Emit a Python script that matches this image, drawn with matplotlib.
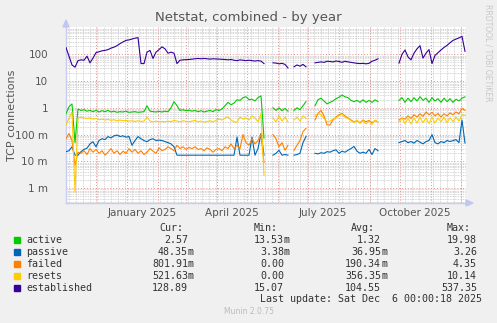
import numpy as np
import pandas as pd
import matplotlib
matplotlib.use("Agg")
import matplotlib.pyplot as plt
from matplotlib.patches import Rectangle, Polygon

N = np.nan

# munin netstat, one sample every 3 days from 2024-11-01, NaN = no data
start = pd.Timestamp("2024-11-01")
end = pd.Timestamp("2025-12-06")
t = pd.date_range(start, periods=134, freq="3D")

established = [
    180, 85, 40, 33, 58, 62, 60, 85, 48, 72,
    115, 125, 135, 140, 150, 170, 185, 210, 250, 290,
    330, 345, 370, 400, 420, 45, 45, 120, 140, 70,
    120, 150, 190, 160, 110, 120, 110, 45, 60, 62,
    63, 64, 66, 68, 70, 68, 70, 68, 66, 68,
    67, 66, 65, 64, 62, 64, 60, 58, 62, 60,
    58, 60, 58, 56, 58, 56, 45, N, N, 48,
    47, 44, 46, 42, 31, N, 34, 40, 36, 42,
    34, N, N, 48, 50, 52, 50, 55, 54, 52,
    56, 54, 50, 55, 52, 50, 48, 46, 45, 46,
    44, 46, 55, 60, 68, N, N, N, N, N,
    N, 47, 100, 145, 80, 62, 110, 160, 210, 72,
    110, 150, 45, 90, 115, 145, 180, 215, 270, 330,
    370, 410, 470, 128.89,
]
active = [
    0.6, 1.1, 1.4, 0.05, 0.9, 0.8, 0.85, 0.75, 0.8, 0.72,
    0.8, 0.7, 0.78, 0.72, 0.8, 0.7, 0.75, 0.68, 0.72, 0.7,
    0.75, 0.68, 0.7, 0.72, 0.68, 0.7, 0.72, 1.2, 0.75, 0.72,
    0.7, 0.74, 0.7, 0.75, 0.72, 1.0, 1.7, 1.2, 0.8, 0.85,
    0.78, 0.82, 0.75, 0.8, 0.72, 0.78, 0.7, 0.75, 0.8, 0.72,
    0.85, 0.8, 0.9, 1.2, 1.6, 1.3, 1.5, 2.0, 1.9, 2.4,
    2.6, 2.0, 2.1, 1.8, 2.4, 2.8, 0.074, N, N, 1.0,
    0.8, 1.0, 0.78, 0.95, 0.75, N, 0.8, 1.0, 0.85, 1.2,
    1.7, N, N, 1.2, 2.0, 2.3, 1.8, 1.4, 1.6, 1.8,
    2.2, 2.5, 3.0, 2.6, 2.4, 1.9, 1.7, 1.9, 1.6, 2.0,
    1.6, 1.9, 1.6, 2.0, 1.7, N, N, N, N, N,
    N, 1.9, 2.4, 1.6, 2.3, 1.7, 2.4, 1.8, 2.6, 1.9,
    2.3, 1.6, 2.4, 1.8, 2.2, 1.6, 2.3, 1.7, 2.2, 1.6,
    2.1, 1.8, 2.3, 2.57,
]
resets = [
    0.23, 0.4, 0.7, 0.0007, 0.42, 0.45, 0.42, 0.4, 0.42, 0.38,
    0.4, 0.36, 0.38, 0.35, 0.37, 0.34, 0.36, 0.33, 0.35, 0.33,
    0.34, 0.32, 0.33, 0.31, 0.33, 0.31, 0.32, 0.45, 0.32, 0.3,
    0.32, 0.3, 0.31, 0.3, 0.32, 0.3, 0.34, 0.32, 0.3, 0.33,
    0.31, 0.3, 0.32, 0.34, 0.3, 0.32, 0.29, 0.31, 0.33, 0.3,
    0.34, 0.38, 0.35, 0.42, 0.46, 0.35, 0.3, 0.29, 0.45, 0.38,
    0.42, 0.35, 0.5, 0.42, 0.3, 0.6, 0.003, N, N, 0.42,
    0.3, 0.5, 0.32, 0.45, 0.3, N, 0.35, 0.45, 0.32, 0.5,
    0.4, N, N, 0.5, 0.62, 0.55, 0.4, 0.3, 0.32, 0.38,
    0.42, 0.5, 0.58, 0.45, 0.4, 0.33, 0.28, 0.35, 0.26, 0.33,
    0.25, 0.32, 0.24, 0.35, 0.3, N, N, N, N, N,
    N, 0.3, 0.42, 0.26, 0.4, 0.25, 0.42, 0.27, 0.45, 0.28,
    0.42, 0.26, 0.45, 0.27, 0.42, 0.3, 0.45, 0.28, 0.43, 0.3,
    0.45, 0.32, 0.55, 0.52,
]
failed = [
    0.07, 0.11, 0.06, 0.007, 0.022, 0.02, 0.025, 0.018, 0.03, 0.022,
    0.028, 0.02, 0.025, 0.017, 0.022, 0.03, 0.02, 0.025, 0.018, 0.024,
    0.02, 0.03, 0.022, 0.028, 0.02, 0.025, 0.018, 0.022, 0.03, 0.024,
    0.02, 0.032, 0.025, 0.028, 0.035, 0.03, 0.025, 0.04, 0.03, 0.035,
    0.028, 0.033, 0.03, 0.035, 0.028, 0.03, 0.025, 0.032, 0.028, 0.022,
    0.028, 0.03, 0.025, 0.035, 0.03, 0.045, 0.03, 0.04, 0.03, 0.1,
    0.05, 0.04, 0.07, 0.045, 0.06, 0.1, 0.009, N, N, 0.1,
    0.07, 0.035, 0.05, 0.026, 0.04, N, 0.026, 0.04, 0.06, 0.13,
    0.17, N, N, 0.35, 0.62, 0.8, 0.5, 0.23, 0.23, 0.35,
    0.45, 0.55, 0.62, 0.5, 0.42, 0.35, 0.3, 0.33, 0.28, 0.35,
    0.3, 0.34, 0.28, 0.33, 0.3, N, N, N, N, N,
    N, 0.35, 0.42, 0.38, 0.5, 0.4, 0.55, 0.45, 0.6, 0.48,
    0.7, 0.55, 0.68, 0.5, 0.62, 0.45, 0.6, 0.5, 0.65, 0.55,
    0.7, 0.6, 0.95, 0.80191,
]
passive = [
    0.023, 0.025, 0.035, 0.017, 0.017, 0.023, 0.028, 0.031, 0.045, 0.054,
    0.035, 0.06, 0.07, 0.065, 0.084, 0.075, 0.09, 0.096, 0.085, 0.09,
    0.08, 0.085, 0.04, 0.06, 0.084, 0.07, 0.06, 0.054, 0.065, 0.07,
    0.06, 0.062, 0.06, 0.055, 0.05, 0.045, 0.035, 0.017, 0.017, 0.017,
    0.017, 0.017, 0.017, 0.017, 0.017, 0.017, 0.017, 0.017, 0.017, 0.017,
    0.017, 0.017, 0.017, 0.017, 0.017, 0.017, 0.017, 0.08, 0.017, 0.017,
    0.017, 0.017, 0.08, 0.017, 0.03, 0.11, 0.017, N, N, 0.017,
    0.02, 0.026, 0.017, 0.018, 0.017, N, 0.017, 0.018, 0.02, 0.05,
    0.085, N, N, 0.02, 0.019, 0.021, 0.02, 0.023, 0.022, 0.025,
    0.027, 0.02, 0.024, 0.022, 0.026, 0.03, 0.036, 0.024, 0.02, 0.022,
    0.02, 0.028, 0.018, 0.03, 0.025, N, N, N, N, N,
    N, 0.05, 0.055, 0.06, 0.05, 0.055, 0.048, 0.06, 0.052, 0.045,
    0.055, 0.06, 0.1, 0.05, 0.045, 0.055, 0.05, 0.06, 0.055, 0.06,
    0.065, 0.05, 0.35, 0.04835,
]

names = ["active", "passive", "failed", "resets", "established"]
colors = ["#00CC00", "#0066B3", "#FF8000", "#FFCC00", "#330099"]
series = [active, passive, failed, resets, established]
cur = ["2.57", "48.35m", "801.91m", "521.63m", "128.89"]
mins = ["13.53m", "3.38m", "0.00", "0.00", "15.07"]
avgs = ["1.32", "36.95m", "190.34m", "356.35m", "104.55"]
maxs = ["19.98", "3.26", "4.35", "10.14", "537.35"]

W, H = 497, 323
fig = plt.figure(figsize=(W / 100, H / 100), dpi=100, facecolor="#F0F0F0")
ax = fig.add_axes([66 / W, 1 - 203 / H, 400 / W, 176 / H])
ax.set_facecolor("white")
ax.set_yscale("log")
ax.set_xlim(start, end)
ax.set_ylim(10 ** -3.556, 10 ** 3.02)

grid_minor = dict(color="#C8C8C8", lw=0.6, ls=(0, (1, 1)), zorder=0.5)
grid_major = dict(color="#E89090", lw=0.7, ls=(0, (1, 2)), zorder=0.6)

for d in pd.date_range(start, end, freq="W-MON"):
    ax.axvline(d, **grid_minor)
for d in pd.date_range(start, end, freq="MS"):
    ax.axvline(d, **grid_major)
for e in range(-4, 3):
    for k in range(2, 10):
        ax.axhline(k * 10.0 ** e, **grid_minor)
for e in range(-3, 3):
    ax.axhline(10.0 ** e, **grid_major)

for vals, c in zip(series, colors):
    ax.plot(t, vals, color=c, lw=0.8, zorder=3)

yt = [1e-3, 1e-2, 1e-1, 1, 10, 100]
ax.set_yticks(yt)
ax.set_yticklabels(["1 m", "10 m", "100 m", "1", "10", "100"])
ax.yaxis.set_minor_locator(plt.NullLocator())
ax.set_xticks([])
ax.tick_params(axis="y", length=0, pad=13, labelsize=7.5, labelcolor="#555555")

for m in ["2025-01-16", "2025-04-16", "2025-07-16", "2025-10-16"]:
    ax.text(pd.Timestamp(m), -0.054, pd.Timestamp(m).strftime("%B %Y"),
            transform=ax.get_xaxis_transform(), ha="center", va="center",
            fontsize=7.5, color="#555555")

for s in ["top", "right"]:
    ax.spines[s].set_visible(False)
for s in ["left", "bottom"]:
    ax.spines[s].set_color("#C8CCF0")
    ax.spines[s].set_linewidth(1.0)

# axis arrows
axc = "#C0C8F0"
fig.patches.append(Polygon([[63 / W, 1 - 27 / H], [69 / W, 1 - 27 / H], [66 / W, 1 - 20 / H]],
                           closed=True, transform=fig.transFigure, color=axc))
fig.patches.append(Polygon([[466 / W, 1 - 200 / H], [466 / W, 1 - 206 / H], [473 / W, 1 - 203 / H]],
                           closed=True, transform=fig.transFigure, color=axc))

fig.text(0.5, 1 - 18 / H, "Netstat, combined - by year", ha="center", va="center",
         fontsize=9.5, color="#555555")
fig.text(12 / W, 1 - 115 / H, "TCP connections", rotation=90, ha="center", va="center",
         fontsize=8, color="#555555")
fig.text(488 / W, 1 - 53 / H, "RRDTOOL / TOBI OETIKER", rotation=270, ha="center",
         va="center", fontsize=5.5, color="#C8C8C8")

mono = dict(family="DejaVu Sans Mono", fontsize=7.2, color="#333333", va="center")
fig.text(159 / W, 1 - 228 / H, "Cur:", **mono)
fig.text(254 / W, 1 - 228 / H, "Min:", **mono)
fig.text(351 / W, 1 - 228 / H, "Avg:", **mono)
fig.text(447 / W, 1 - 228 / H, "Max:", **mono)


def put_value(txt, right, y):
    # numbers line up on the digits, the unit letter hangs after them
    if txt.endswith("m"):
        fig.text(right / W, y, txt[:-1], ha="right", **mono)
        fig.text(right / W, y, "m", ha="left", **mono)
    else:
        fig.text(right / W, y, txt, ha="right", **mono)


for i, name in enumerate(names):
    yp = 240 + 12 * i
    y = 1 - yp / H
    fig.patches.append(Rectangle((14 / W, 1 - (yp + 3) / H), 6 / W, 6 / H,
                                 transform=fig.transFigure, color=colors[i]))
    fig.text(26 / W, y, name, ha="left", **mono)
    put_value(cur[i], 188, y)
    put_value(mins[i], 284, y)
    put_value(avgs[i], 381, y)
    put_value(maxs[i], 477, y)

fig.text(482 / W, 1 - 299 / H, "Last update: Sat Dec  6 00:00:18 2025", ha="right", **mono)
fig.text(0.5, 1 - 312 / H, "Munin 2.0.75", ha="center", va="center",
         fontsize=5.5, color="#BBBBBB")

fig.savefig("out.png", dpi=100, facecolor=fig.get_facecolor())
